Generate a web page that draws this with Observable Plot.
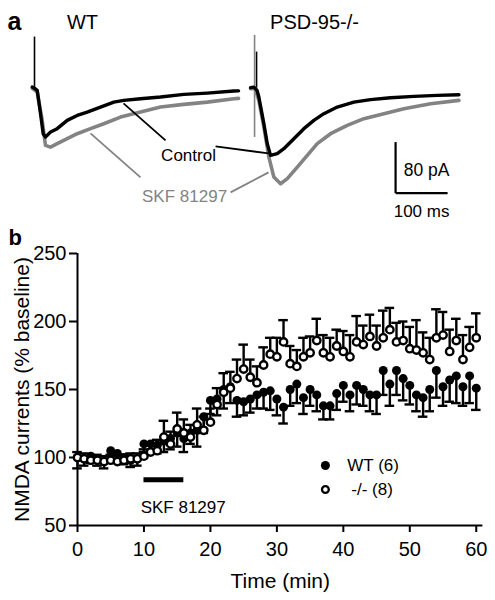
<!DOCTYPE html>
<html><head><meta charset="utf-8">
<script src="https://cdn.jsdelivr.net/npm/d3@7"></script>
<script src="https://cdn.jsdelivr.net/npm/@observablehq/plot@0.6"></script>
<style>
body{margin:0;background:#fff;}
#wrap{position:relative;width:495px;height:600px;overflow:hidden;background:#fff;}
#pa{position:absolute;left:0;top:0;}
#pb{position:absolute;left:0;top:225px;}
svg{overflow:visible;}
</style></head><body><div id="wrap"><div id="pa"></div><div id="pb"></div></div>
<script>
const FONT = "'Liberation Sans', Arial, Helvetica, sans-serif";
const GRAY = "#838383";

// ---------- Panel a: example NMDA current traces (ms, pA) ----------
const wtControlMs = [3.3, 8, 12.9, 19.2, 24.4, 28.8, 38.5, 51.3, 70.6, 89.8, 109.0, 134.6, 160.2, 179.4, 211.5, 250, 294.8, 339.8, 391, 400];
const wtControlPA = [2.0, 0, -3.1, -39.2, -71.1, -76.4, -68.5, -63.2, -50.2, -42.4, -37.2, -29.3, -21.5, -18.8, -16.2, -13.6, -9.4, -7.4, -4.2, -3.9];
const wtSkfMs = [3.3, 8.7, 12.9, 22.5, 28.8, 38.5, 51.3, 70.6, 89.8, 115.4, 141, 173.1, 211.5, 250, 294.8, 339.8, 391, 400];
const wtSkfPA = [0, -3.1, -5.8, -50.2, -89.4, -92.1, -86.7, -78.9, -71.1, -63.2, -55.4, -45.0, -37.2, -29.3, -25.1, -21.5, -16.2, -15.7];
const koControlMs = [423.1, 429.4, 435.6, 439, 448.7, 455.2, 461.5, 474.4, 487.1, 506.3, 525.6, 544.8, 564, 589.8, 621.7, 653.8, 692.3, 737.1, 782.1, 823.7];
const koControlPA = [1.1, 2.0, -3.1, -13.6, -55.4, -86.7, -105.1, -102.4, -94.6, -78.9, -63.2, -50.2, -39.7, -29.3, -21.5, -17.7, -14.6, -12.5, -11.0, -9.9];
const koSkfMs = [423.1, 431.9, 439, 448.7, 458.3, 467.9, 480.8, 493.7, 512.9, 532.1, 551.3, 576.9, 609, 641, 679.4, 717.9, 769.2, 823.7];
const koSkfPA = [-0.5, 0, -18.8, -60.7, -107.8, -139.1, -149.5, -141.6, -123.5, -105.1, -86.7, -71.1, -58.0, -47.5, -39.7, -31.8, -24.0, -18.8];
// stimulus artifacts
const artifactMs = [7.7, 434.6, 430.8];
const artifactLo = [0, 0, -76.9];
const artifactHi = [80.5, 56.9, 83.1];
const artifactColor = ["black", "black", GRAY];
// labels
const genotypeLabels = ["WT", "PSD-95-/-"];
const genotypeMs = [100, 546];
const conditionLabels = ["Control", "SKF 81297"];
const scaleBarMs = 100, scaleBarPA = 80;

// ---------- Panel b: time course (% baseline) ----------
const minutes = d3.range(0, 61);
const wtMean = [100,99,101,99,97,105,103,100,98,99, 110,110,109,112,114,118,114,118,120,130, 142,143,150,152,142,141,143,146,148,149, 143,137,150,154,144,150,146,138,138,147, 153,146,153,150,146,146,164,154,164,158, 153,146,144,150,164,152,157,160,152,160,151];
const wtSem  = [8,5,5,5,5,6,6,5,5,5, 6,6,6,8,8,10,10,8,12,12, 10,12,14,12,12,10,10,10,12,14, 12,12,12,14,12,12,12,10,10,12, 12,12,14,12,12,14,18,16,18,16, 14,12,14,16,20,14,16,20,14,20,16];
const koMean = [100,99,98,98,97,98,97,98,99,99, 101,104,105,115,110,121,118,115,124,120, 126,139,148,151,158,165,159,155,168,176, 174,185,169,167,174,177,186,177,174,182, 178,174,185,183,189,182,188,194,185,186, 180,179,177,172,188,190,178,186,172,181,188];
const koSem  = [4,4,3,4,4,4,4,4,4,4, 5,6,8,12,9,12,10,9,12,10, 10,12,14,12,14,18,13,12,13,12, 14,16,13,12,14,12,16,13,14,12, 15,16,19,14,16,15,20,16,14,14, 16,22,15,16,21,17,16,16,18,15,18];
const xTicks = [0, 10, 20, 30, 40, 50, 60];
const yTicks = [50, 100, 150, 200, 250];
const drugStart = 10, drugEnd = 16;
const legendLabels = ["WT (6)", "-/- (8)"];
const yTitle = "NMDA currents (% baseline)";
const xTitle = "Time (min)";

// ---------- build panel a ----------
const pts = (ms, pa) => ms.map((m, i) => ({ms: m, pA: pa[i]}));
const artifacts = artifactMs.map((m, i) => ({ms: m, lo: artifactLo[i], hi: artifactHi[i], color: artifactColor[i]}));
const pointers = [
  {ms1: 178.8, pA1: -23.5, ms2: 259.6, pA2: -81.6, c: "black"},
  {ms1: 355.8, pA1: -91.0, ms2: 457.7, pA2: -102, c: "black"},
  {ms1: 115.4, pA1: -70.6, ms2: 211.5, pA2: -139.6, c: GRAY},
  {ms1: 384.6, pA1: -163.1, ms2: 457.7, pA2: -131.8, c: GRAY}
];
const sbX = 701.9, sbY = -164.2;

const plotA = Plot.plot({
  width: 495, height: 225,
  marginLeft: 30, marginRight: 0, marginTop: 5, marginBottom: 9.6,
  x: {domain: [0, 894]}, y: {domain: [-200, 130]},
  color: {type: "identity"},
  axis: null,
  style: {fontFamily: FONT, background: "white", overflow: "visible"},
  marks: [
    Plot.ruleX(artifacts, {x: "ms", y1: "lo", y2: "hi", stroke: "color", strokeWidth: 1.6}),
    Plot.line(pts(wtSkfMs, wtSkfPA), {x: "ms", y: "pA", stroke: GRAY, strokeWidth: 3.6, strokeLinejoin: "round"}),
    Plot.line(pts(koSkfMs, koSkfPA), {x: "ms", y: "pA", stroke: GRAY, strokeWidth: 3.6, strokeLinejoin: "round"}),
    Plot.line(pts(wtControlMs, wtControlPA), {x: "ms", y: "pA", stroke: "black", strokeWidth: 3.4, strokeLinejoin: "round"}),
    Plot.line(pts(koControlMs, koControlPA), {x: "ms", y: "pA", stroke: "black", strokeWidth: 3.4, strokeLinejoin: "round"}),
    Plot.link(pointers, {x1: "ms1", y1: "pA1", x2: "ms2", y2: "pA2", stroke: "c", strokeWidth: 1.8}),
    Plot.text(genotypeLabels, {x: (d, i) => genotypeMs[i], y: 103.5, text: d => d, fontSize: 20, fill: "black"}),
    Plot.text([conditionLabels[0]], {x: 303.8, y: -105.1, text: d => d, fontSize: 17, fill: "black"}),
    Plot.text([conditionLabels[1]], {x: 296.2, y: -169.4, text: d => d, fontSize: 17, fill: GRAY}),
    // scale bar
    Plot.link([{x1: sbX, y1: sbY + scaleBarPA, x2: sbX, y2: sbY}, {x1: sbX, y1: sbY, x2: sbX + scaleBarMs, y2: sbY}],
      {x1: "x1", y1: "y1", x2: "x2", y2: "y2", stroke: "black", strokeWidth: 2.2}),
    Plot.text([`${scaleBarPA} pA`], {x: sbX + 15.5, y: sbY + 35.6, text: d => d, textAnchor: "start", fontSize: 17.5, fill: "black"}),
    Plot.text([`${scaleBarMs} ms`], {x: sbX + 50, y: sbY - 28.7, text: d => d, fontSize: 17, fill: "black"}),
    Plot.text(["a"], {x: 0, y: 103.5, dx: -23, text: d => d, textAnchor: "start", fontSize: 25, fontWeight: "bold", fill: "black"})
  ]
});
document.getElementById("pa").appendChild(plotA);

// ---------- build panel b ----------
const wt = minutes.map((t, i) => ({t, v: wtMean[i], e: wtSem[i]}));
const ko = minutes.map((t, i) => ({t, v: koMean[i], e: koSem[i]}));
const capHalf = 0.72;
const legendT = 37.3, legendTextT = 40.6, legendY = [94.1, 76.5];

const plotB = Plot.plot({
  width: 495, height: 375,
  marginLeft: 77, marginRight: 12.6, marginTop: 28, marginBottom: 75,
  x: {domain: [0, 61]}, y: {domain: [50, 250]},
  style: {fontFamily: FONT, background: "white", color: "black", overflow: "visible"},
  marks: [
    Plot.axisX({ticks: xTicks, tickSize: 7, tickPadding: 9, label: null, fontSize: 20, strokeWidth: 2}),
    Plot.axisY({ticks: yTicks, tickSize: 8, tickPadding: 3, label: null, fontSize: 20, strokeWidth: 2}),
    Plot.ruleY([50], {x1: 0, x2: 61, strokeWidth: 2}),
    Plot.ruleX([0], {y1: 50, y2: 250, strokeWidth: 2}),
    // WT: error bars downwards
    Plot.ruleX(wt, {x: "t", y1: "v", y2: d => d.v - d.e, strokeWidth: 2.4}),
    Plot.ruleY(wt, {y: d => d.v - d.e, x1: d => d.t - capHalf, x2: d => d.t + capHalf, strokeWidth: 2.4}),
    Plot.dot(wt, {x: "t", y: "v", r: 4.5, fill: "black", stroke: "none"}),
    // -/-: error bars upwards
    Plot.ruleX(ko, {x: "t", y1: "v", y2: d => d.v + d.e, strokeWidth: 2.4}),
    Plot.ruleY(ko, {y: d => d.v + d.e, x1: d => d.t - capHalf, x2: d => d.t + capHalf, strokeWidth: 2.4}),
    Plot.dot(ko, {x: "t", y: "v", r: 3.7, fill: "white", stroke: "black", strokeWidth: 2.4}),
    // drug application bar
    Plot.ruleY([83.6], {x1: drugStart, x2: drugEnd, strokeWidth: 5}),
    Plot.text(["SKF 81297"], {x: drugStart - 0.5, y: 63.5, text: d => d, textAnchor: "start", fontSize: 17, fill: "black"}),
    // legend
    Plot.dot([legendY[0]], {x: legendT, y: d => d, r: 4.5, fill: "black", stroke: "none"}),
    Plot.dot([legendY[1]], {x: legendT, y: d => d, r: 3.4, fill: "white", stroke: "black", strokeWidth: 2.3}),
    Plot.text(legendLabels, {x: (d, i) => i === 0 ? legendTextT : legendTextT + 0.6, y: (d, i) => legendY[i], text: d => d, textAnchor: "start", fontSize: 17, fill: "black"}),
    // axis titles
    Plot.text([yTitle], {x: -8.3, y: 150, text: d => d, rotate: -90, fontSize: 21, fill: "black"}),
    Plot.text([xTitle], {x: 30.5, y: 50, dy: 56, text: d => d, fontSize: 21, fill: "black"}),
    Plot.text(["b"], {x: 0, y: 250, dx: -69, dy: -16, text: d => d, textAnchor: "start", fontSize: 22, fontWeight: "bold", fill: "black"})
  ]
});
document.getElementById("pb").appendChild(plotB);
</script>
</body></html>
